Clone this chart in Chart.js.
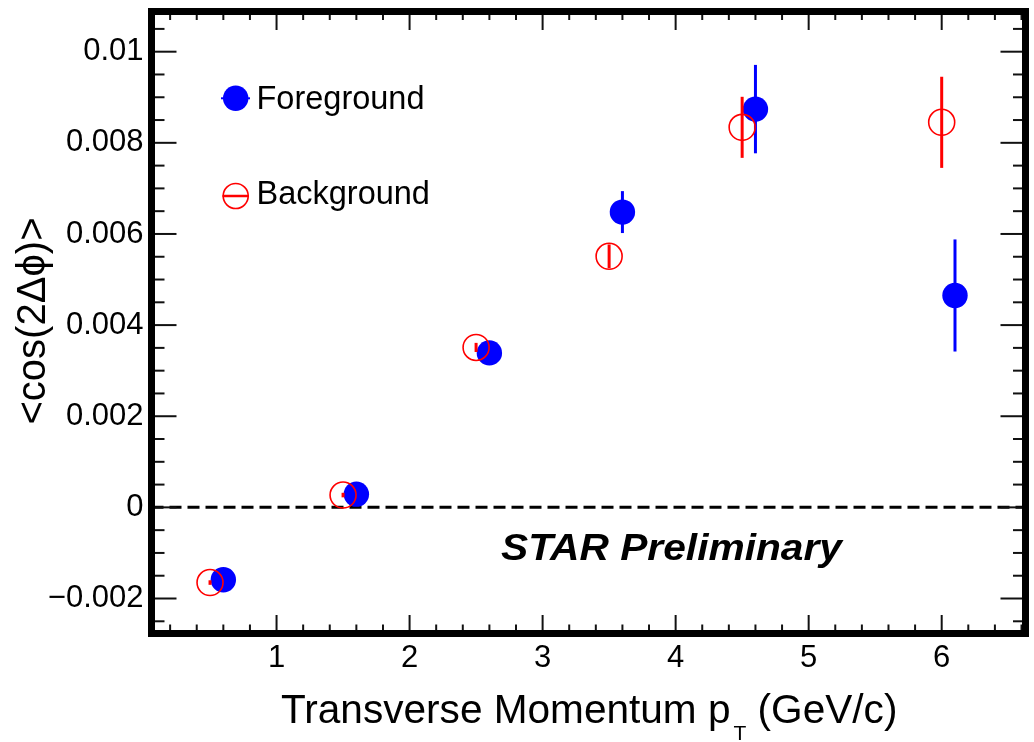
<!DOCTYPE html>
<html>
<head>
<meta charset="utf-8">
<script src="https://cdn.jsdelivr.net/npm/chart.js@4"></script>
<style>
  html, body { margin: 0; padding: 0; background: #fff; }
  #c { display: block; }
</style>
</head>
<body>
<canvas id="c" width="1034" height="742"></canvas>
<script>
// foreground (blue filled) and background (red open) points
const fgPt  = [0.6, 1.6, 2.6, 3.6, 4.6, 6.1];
const fgVal = [-0.00159, 0.00029, 0.00339, 0.00648, 0.00874, 0.00465];
const fgErr = [0.00008, 0.00008, 0.0001, 0.00046, 0.00097, 0.00123];

const bgPt  = [0.5, 1.5, 2.5, 3.5, 4.5, 6.0];
const bgVal = [-0.00165, 0.00027, 0.00351, 0.00551, 0.00834, 0.00845];
const bgErr = [0.00005, 0.00005, 0.0001, 0.00026, 0.00067, 0.001];

const xTicks = [1, 2, 3, 4, 5, 6];
const yTicks = [-0.002, 0, 0.002, 0.004, 0.006, 0.008, 0.01];

const FONT = '"Liberation Sans", Arial, Helvetica, sans-serif';
const BLUE = '#0000ff', RED = '#ff0000';

const toXY = (xs, ys) => xs.map((x, i) => ({ x, y: ys[i] }));

// error bars go under each dataset's markers
const errBars = {
  id: 'errBars',
  beforeDatasetDraw(chart, args) {
    const ds = chart.data.datasets[args.index];
    const { x, y } = chart.scales;
    const ctx = chart.ctx;
    ctx.save();
    ctx.strokeStyle = ds.errColor;
    ctx.lineWidth = 3;
    ds.data.forEach((p, i) => {
      const e = ds.errors[i];
      const px = x.getPixelForValue(p.x);
      ctx.beginPath();
      ctx.moveTo(px, y.getPixelForValue(p.y - e));
      ctx.lineTo(px, y.getPixelForValue(p.y + e));
      ctx.stroke();
    });
    ctx.restore();
  }
};

// ROOT style frame, inward ticks, zero line, labels
const frame = {
  id: 'frame',
  beforeDatasetsDraw(chart) {
    const { ctx, chartArea: a, scales: { y } } = chart;
    const y0 = y.getPixelForValue(0);
    ctx.save();
    ctx.strokeStyle = '#000';
    ctx.lineWidth = 3;
    ctx.setLineDash([12, 6]);
    ctx.beginPath();
    ctx.moveTo(a.left, y0);
    ctx.lineTo(a.right, y0);
    ctx.stroke();
    ctx.restore();
  },
  afterDraw(chart) {
    const { ctx, chartArea: a, scales: { x, y } } = chart;
    ctx.save();
    ctx.strokeStyle = '#111';
    ctx.lineWidth = 2;
    const tick = (x1, y1, x2, y2) => { ctx.beginPath(); ctx.moveTo(x1, y1); ctx.lineTo(x2, y2); ctx.stroke(); };
    // x ticks (bottom + top)
    for (let k = 1; k <= 33; k++) {
      const v = k * 0.2;
      if (v < x.min || v > x.max) continue;
      const major = k % 5 === 0;
      const px = x.getPixelForValue(v);
      tick(px, a.bottom, px, a.bottom - (major ? 18.5 : 9));
      tick(px, a.top, px, a.top + (major ? 18.5 : 8.5));
    }
    // y ticks (left + right)
    for (let k = -5; k <= 21; k++) {
      const v = k * 0.0005;
      if (v < y.min || v > y.max) continue;
      const major = k % 4 === 0;
      const py = y.getPixelForValue(v);
      tick(a.left, py, a.left + (major ? 25 : 13), py);
      tick(a.right, py, a.right - (major ? 25 : 12.5), py);
    }
    // frame
    ctx.lineWidth = 7;
    ctx.strokeStyle = '#000';
    ctx.strokeRect(a.left, a.top, a.right - a.left, a.bottom - a.top);

    // legend
    ctx.fillStyle = BLUE;
    ctx.beginPath(); ctx.arc(235.7, 98.3, 12.7, 0, Math.PI * 2); ctx.fill();
    ctx.strokeStyle = BLUE; ctx.lineWidth = 2;
    tick(221, 98.3, 250, 98.3);
    ctx.strokeStyle = RED; ctx.lineWidth = 1.6;
    ctx.beginPath(); ctx.arc(235.7, 196, 12.5, 0, Math.PI * 2); ctx.stroke();
    ctx.lineWidth = 2.5;
    tick(222.5, 196, 249, 196);
    ctx.fillStyle = '#000';
    ctx.font = '32.5px ' + FONT;
    ctx.textAlign = 'left';
    ctx.textBaseline = 'alphabetic';
    ctx.fillText('Foreground', 256.5, 108.5);
    ctx.fillText('Background', 256.5, 203.5);

    // STAR Preliminary (stretched to the reference width)
    ctx.save();
    ctx.font = 'italic bold 37px ' + FONT;
    const starW = ctx.measureText('STAR Preliminary').width;
    ctx.translate(501, 560);
    ctx.scale(341 / starW, 1);
    ctx.fillText('STAR Preliminary', 0, 0);
    ctx.restore();

    // x title with subscript
    let tx = 281;
    ctx.font = '40.6px ' + FONT;
    const part1 = 'Transverse Momentum p';
    ctx.fillText(part1, tx, 723);
    tx += ctx.measureText(part1).width + 3;
    ctx.font = '21px ' + FONT;
    ctx.fillText('T', tx, 740);
    tx += ctx.measureText('T').width;
    ctx.font = '40.6px ' + FONT;
    ctx.fillText(' (GeV/c)', tx, 723);

    // y title
    ctx.font = '40px ' + FONT;
    ctx.translate(45, 321);
    ctx.rotate(-Math.PI / 2);
    ctx.textAlign = 'center';
    ctx.fillText('<cos(2\u0394\u03d5)>', 0, 0);
    ctx.restore();
  }
};

const fmtY = v => {
  if (Math.abs(v) < 1e-12) return '0';
  const s = String(parseFloat(Math.abs(v).toFixed(4)));
  return (v < 0 ? '\u2212' : '') + s;
};

new Chart(document.getElementById('c'), {
  type: 'scatter',
  data: {
    datasets: [
      {
        label: 'Background',
        data: toXY(bgPt, bgVal),
        errors: bgErr,
        errColor: RED,
        pointStyle: 'circle',
        pointRadius: 13,
        pointBackgroundColor: 'rgba(0,0,0,0)',
        pointBorderColor: RED,
        pointBorderWidth: 1.6
      },
      {
        label: 'Foreground',
        data: toXY(fgPt, fgVal),
        errors: fgErr,
        errColor: BLUE,
        pointStyle: 'circle',
        pointRadius: 12.7,
        pointBackgroundColor: BLUE,
        pointBorderColor: BLUE,
        pointBorderWidth: 0
      }
    ]
  },
  options: {
    responsive: false,
    animation: false,
    devicePixelRatio: 1,
    events: [],
    layout: { autoPadding: false, padding: { left: 0, top: 11.5, right: 8.5, bottom: 0 } },
    plugins: { legend: { display: false }, tooltip: { enabled: false } },
    scales: {
      x: {
        type: 'linear',
        min: 0.06,
        max: 6.63,
        grid: { display: false, drawTicks: false },
        border: { display: false },
        afterBuildTicks: s => { s.ticks = xTicks.map(v => ({ value: v })); },
        afterFit: s => { s.height = 108.5; s.paddingLeft = 0; s.paddingRight = 0; },
        ticks: {
          autoSkip: false,
          maxRotation: 0,
          padding: 6,
          color: '#000',
          font: { family: FONT, size: 31 },
          callback: v => String(v)
        }
      },
      y: {
        type: 'linear',
        min: -0.002768,
        max: 0.010882,
        grid: { display: false, drawTicks: false },
        border: { display: false },
        afterBuildTicks: s => { s.ticks = yTicks.map(v => ({ value: v })); },
        afterFit: s => { s.width = 151.5; s.paddingTop = 0; s.paddingBottom = 0; },
        ticks: {
          autoSkip: false,
          padding: 8,
          color: '#000',
          font: { family: FONT, size: 31 },
          callback: v => fmtY(v)
        }
      }
    }
  },
  plugins: [errBars, frame]
});
</script>
</body>
</html>
